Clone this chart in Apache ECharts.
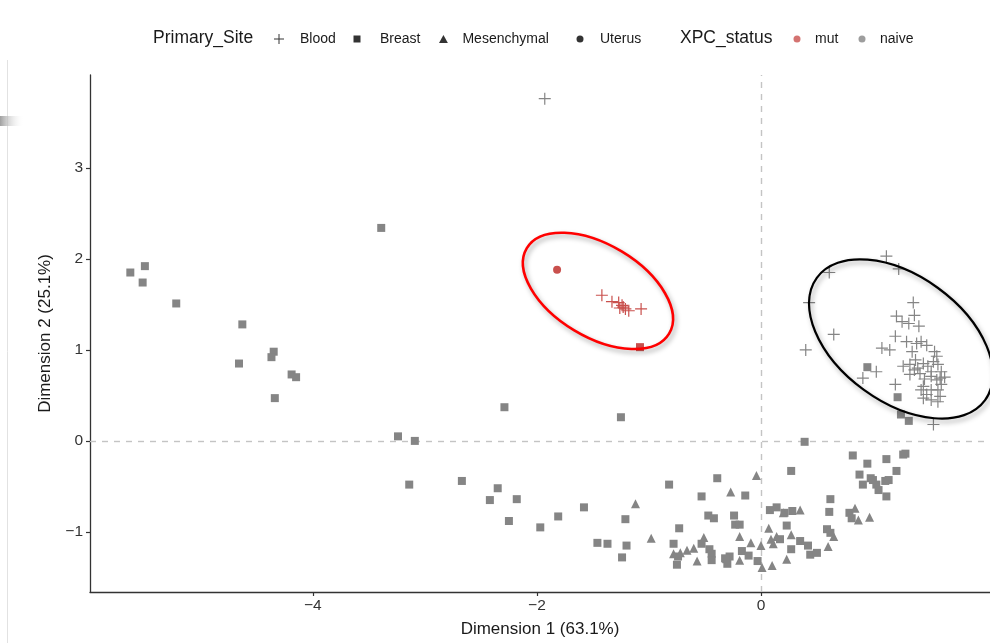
<!DOCTYPE html>
<html>
<head>
<meta charset="utf-8">
<script src="https://cdn.jsdelivr.net/npm/echarts@6/dist/echarts.min.js"></script>
<style>
  html, body { margin: 0; padding: 0; background: #ffffff; }
  #chart { width: 990px; height: 643px; }
</style>
</head>
<body>
<div id="chart"></div>
<script>
// PCA scores of samples: Dimension 1 (63.1%) vs Dimension 2 (25.1%),
// shape = primary site, colour = XPC status.

const bloodNaive = [
  [-1.93, 3.76],
  [1.12, 2.03], [1.23, 1.89], [0.61, 1.85], [0.43, 1.52], [0.65, 1.17], [0.40, 1.00],
  [1.36, 1.52], [1.21, 1.37], [1.26, 1.31], [1.32, 1.29], [1.37, 1.38], [1.41, 1.26],
  [1.20, 1.15], [1.08, 1.02], [1.15, 1.00], [1.30, 1.09], [1.39, 1.07], [1.43, 1.09],
  [1.48, 1.05], [1.35, 0.98], [1.55, 0.98], [1.57, 0.93], [1.54, 0.87], [1.58, 0.84],
  [1.27, 0.82], [1.33, 0.84], [1.38, 0.89], [1.40, 0.80], [1.45, 0.85], [1.49, 0.82],
  [1.52, 0.76], [1.61, 0.76], [1.60, 0.69], [1.64, 0.70], [1.33, 0.73], [1.42, 0.74],
  [1.46, 0.68], [1.52, 0.71], [1.57, 0.67], [1.37, 0.78], [1.43, 0.56], [1.48, 0.51],
  [1.52, 0.56], [1.58, 0.56], [1.60, 0.49], [1.45, 0.47], [1.52, 0.45], [1.58, 0.43],
  [1.45, 0.60], [1.61, 0.62], [1.03, 0.76], [0.91, 0.69], [1.20, 0.62], [1.54, 0.18]
];

const bloodMut = [
  [-1.42, 1.60], [-1.33, 1.53], [-1.27, 1.52], [-1.24, 1.49], [-1.23, 1.47],
  [-1.21, 1.45], [-1.26, 1.46], [-1.07, 1.45], [-1.18, 1.43]
];

const breastNaive = [
  [-3.39, 2.34], [-5.50, 1.92], [-5.63, 1.85], [-5.52, 1.74], [-5.22, 1.51], [-4.63, 1.28],
  [-4.35, 0.98], [-4.37, 0.92], [-4.66, 0.85], [-4.19, 0.73], [-4.15, 0.70], [-4.34, 0.47],
  [-2.29, 0.37], [-1.25, 0.26], [-3.24, 0.05], [-3.09, 0.00], [-3.14, -0.48], [-2.67, -0.44],
  [-2.35, -0.52], [-2.42, -0.65], [-2.18, -0.64], [-2.25, -0.88], [-1.97, -0.95], [-1.81, -0.83],
  [-1.58, -0.73], [-1.46, -1.12], [-1.37, -1.13], [-1.20, -1.15], [-1.24, -1.28], [-1.21, -0.86],
  [-0.82, -0.48], [-0.73, -0.96], [-0.78, -1.13], [-0.39, -0.41], [-0.53, -0.61], [-0.14, -0.60],
  [-0.47, -0.82], [-0.42, -0.85], [-0.24, -0.82], [-0.23, -0.92], [-0.19, -0.92], [-0.53, -1.13],
  [-0.46, -1.19], [-0.44, -1.24], [-0.44, -1.31], [-0.75, -1.36], [-0.74, -1.27], [-0.31, -1.30],
  [-0.28, -1.27], [-0.30, -1.35], [-0.32, -1.29], [-0.17, -1.21], [-0.11, -1.26], [-0.03, -1.32],
  [0.08, -0.76], [0.14, -0.73], [0.21, -0.79], [0.28, -0.77], [0.23, -0.93], [0.17, -1.08],
  [0.35, -1.10], [0.42, -1.15], [0.44, -1.25], [0.50, -1.23], [0.27, -1.19], [0.39, -0.01],
  [0.27, -0.33], [0.82, -0.16], [0.95, -0.25], [1.12, -0.20], [1.27, -0.15], [1.29, -0.14],
  [1.21, -0.33], [0.88, -0.37], [0.98, -0.41], [1.00, -0.43], [1.11, -0.44], [1.14, -0.43],
  [0.91, -0.48], [1.03, -0.48], [1.05, -0.54], [1.12, -0.61], [0.62, -0.64], [0.61, -0.78],
  [0.79, -0.79], [0.81, -0.85], [0.59, -0.97], [0.62, -1.01],
  [0.95, 0.81], [1.22, 0.48], [1.25, 0.29], [1.32, 0.22]
];

const breastMut = [[-1.08, 1.03]];

const mesenchymalNaive = [
  [-1.12, -0.69], [-0.98, -1.07], [-0.27, -0.56], [-0.04, -0.38], [-0.19, -1.05], [-0.51, -1.06],
  [-0.78, -1.24], [-0.72, -1.23], [-0.66, -1.20], [-0.60, -1.18], [-0.57, -1.32], [-0.19, -1.31],
  [-0.09, -1.12], [0.00, -1.15], [0.01, -1.39], [0.10, -1.37], [0.07, -0.96], [0.09, -1.08],
  [0.11, -1.13], [0.14, -1.05], [0.20, -0.79], [0.35, -0.76], [0.27, -1.03], [0.23, -1.30],
  [0.60, -1.16], [0.65, -1.05], [0.84, -0.74], [0.87, -0.87], [0.97, -0.84]
];

const uterusMut = [[-1.82, 1.88]];

const xTicks = [-4, -2, 0];
const yTicks = [-1, 0, 1, 2, 3];

// Hand-drawn rings around the two clusters (centre in data units, radii in px)
const rings = [
  { center: [-1.455, 1.648], rx: 83, ry: 46, tilt: 31, color: '#ff0000', width: 2.6 },
  { center: [1.25, 1.12], rx: 104, ry: 63, tilt: 36, color: '#000000', width: 2.2 }
];

const FONT = '"Liberation Sans", Arial, Helvetica, sans-serif';
const GRAY = '#858585';
const RED = '#c9504d';
const INK = '#1a1a1a';
const AXIS = '#333333';

const SYM = {
  cross: 'path://M-1,-0.1H1V0.1H-1Z M-0.1,-1H0.1V1H-0.1Z',
  square: 'path://M-1,-1H1V1H-1Z',
  triangle: 'path://M0,-1L1,0.8H-1Z',
  circle: 'path://M-1,0A1,1,0,1,1,1,0A1,1,0,1,1,-1,0Z'
};

const minus = v => String(v).replace('-', '\u2212');

function pointSeries(name, data, symbol, size, color) {
  return {
    type: 'scatter', name, data, symbol, symbolSize: size,
    itemStyle: { color, opacity: 1 },
    emphasis: { disabled: true }, silent: true, z: 3
  };
}

function legendSeries(name, color) {
  return { type: 'scatter', name, data: [], itemStyle: { color } };
}

// iconX = icon centre, textX = start of the label
const legendEntries = [
  { name: 'Blood', icon: SYM.cross, size: 10, iconX: 279, textX: 300 },
  { name: 'Breast', icon: SYM.square, size: 7, iconX: 357, textX: 380 },
  { name: 'Mesenchymal', icon: SYM.triangle, size: 8, iconX: 443, textX: 462 },
  { name: 'Uterus', icon: SYM.circle, size: 7, iconX: 580, textX: 600 },
  { name: 'mut', icon: SYM.circle, size: 7, iconX: 797, textX: 815 },
  { name: 'naive', icon: SYM.circle, size: 7, iconX: 862, textX: 880 }
];

const legends = legendEntries.map(e => {
  const w = 2 * (e.textX - e.iconX - 5);
  return {
    data: [{ name: e.name, icon: e.icon }],
    left: e.iconX - e.size / 2, top: 32, padding: 0,
    itemWidth: w, itemHeight: e.size, symbolKeepAspect: true,
    selectedMode: false,
    textStyle: { fontSize: 14, color: INK, fontFamily: FONT }
  };
});

const ringSeries = rings.map(r => ({
  type: 'custom', coordinateSystem: 'cartesian2d', silent: true, z: 6,
  data: [r.center],
  renderItem: (params, api) => {
    const p = api.coord([api.value(0), api.value(1)]);
    return {
      type: 'ellipse', x: p[0], y: p[1], rotation: -r.tilt * Math.PI / 180,
      shape: { cx: 0, cy: 0, rx: r.rx, ry: r.ry },
      style: {
        fill: 'none', stroke: r.color, lineWidth: r.width,
        shadowBlur: 5, shadowOffsetX: 2, shadowOffsetY: 3, shadowColor: 'rgba(0,0,0,0.35)'
      }
    };
  }
}));

const axisCommon = {
  type: 'value',
  splitLine: { show: false },
  axisLine: { show: true, onZero: false, lineStyle: { color: AXIS, width: 1.3 } },
  nameLocation: 'middle',
  nameTextStyle: { fontSize: 17, color: INK, fontFamily: FONT }
};

const chart = echarts.init(document.getElementById('chart'), null, { renderer: 'canvas' });

chart.setOption({
  animation: false,
  backgroundColor: '#ffffff',
  grid: { left: 90, right: 0, top: 75, bottom: 51 },
  xAxis: Object.assign({}, axisCommon, {
    min: -5.99, max: 2.045,
    name: 'Dimension 1 (63.1%)', nameGap: 29,
    axisTick: { show: true, length: 4, customValues: xTicks, lineStyle: { color: AXIS, width: 1.2 } },
    axisLabel: { customValues: xTicks, formatter: minus, fontSize: 15.5, color: AXIS, margin: 6, fontFamily: FONT }
  }),
  yAxis: Object.assign({}, axisCommon, {
    min: -1.66, max: 4.02,
    name: 'Dimension 2 (25.1%)', nameGap: 36,
    axisTick: { show: true, length: 4, customValues: yTicks, lineStyle: { color: AXIS, width: 1.2 } },
    axisLabel: { customValues: yTicks, formatter: minus, fontSize: 15.5, color: AXIS, margin: 7, fontFamily: FONT }
  }),
  legend: legends,
  graphic: [
    { type: 'text', x: 153, y: 38, style: { text: 'Primary_Site', font: '17.5px ' + FONT, fill: INK, verticalAlign: 'middle' } },
    { type: 'text', x: 680, y: 38, style: { text: 'XPC_status', font: '17.5px ' + FONT, fill: INK, verticalAlign: 'middle' } },
    { type: 'line', shape: { x1: 7.5, y1: 60, x2: 7.5, y2: 643 }, style: { stroke: '#e2e2e2', lineWidth: 1 } },
    { type: 'rect', shape: { x: 0, y: 116, width: 24, height: 10 },
      style: { fill: new echarts.graphic.LinearGradient(0, 0, 1, 0, [
        { offset: 0, color: '#a0a0a0' }, { offset: 1, color: 'rgba(255,255,255,0)' }]) } }
  ],
  series: [
    Object.assign(pointSeries('Breast naive', breastNaive, 'rect', 8, GRAY), {
      markLine: {
        silent: true, symbol: 'none', label: { show: false },
        lineStyle: { color: '#c4c4c4', type: [6, 6], width: 1.4 },
        data: [{ xAxis: 0 }, { yAxis: 0 }],
        z: 1
      }
    }),
    pointSeries('Mesenchymal naive', mesenchymalNaive, 'triangle', 9, GRAY),
    pointSeries('Blood naive', bloodNaive, SYM.cross, 12, GRAY),
    pointSeries('Blood mut', bloodMut, SYM.cross, 12, RED),
    pointSeries('Breast mut', breastMut, 'rect', 8, RED),
    pointSeries('Uterus mut', uterusMut, 'circle', 8, RED),
    legendSeries('Blood', '#000000'),
    legendSeries('Breast', '#000000'),
    legendSeries('Mesenchymal', '#000000'),
    legendSeries('Uterus', '#000000'),
    legendSeries('mut', RED),
    legendSeries('naive', GRAY)
  ].concat(ringSeries)
});
</script>
</body>
</html>
